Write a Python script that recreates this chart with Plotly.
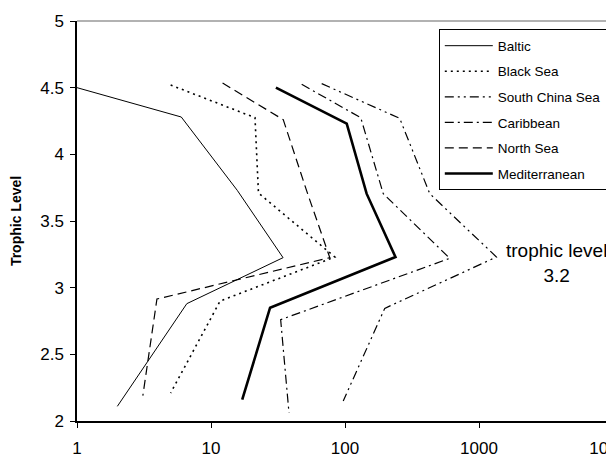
import plotly.graph_objects as go

# Data (catch / biomass vs trophic level)
baltic_x = [1.0, 6.0, 15.7, 34.5, 6.6, 2.0]
baltic_y = [4.50, 4.28, 3.73, 3.225, 2.88, 2.11]

black_x = [5.0, 21.3, 22.6, 84, 11.7, 5.0]
black_y = [4.52, 4.275, 3.71, 3.23, 2.90, 2.21]

scs_x = [67, 256, 429, 1350, 198, 97]
scs_y = [4.53, 4.27, 3.705, 3.23, 2.845, 2.15]

carib_x = [47.5, 131, 193, 605, 33.1, 38.2]
carib_y = [4.525, 4.275, 3.705, 3.22, 2.76, 2.06]

north_x = [12.2, 34.6, 52, 77, 3.95, 3.1]
north_y = [4.535, 4.26, 3.72, 3.225, 2.915, 2.19]

med_x = [30.5, 103, 145, 238, 27.6, 17.1]
med_y = [4.50, 4.23, 3.705, 3.23, 2.85, 2.16]

x_tickvals = [1, 10, 100, 1000, 10000]
x_ticktext = ["1", "10", "100", "1000", "10000"]
y_tickvals = [2, 2.5, 3, 3.5, 4, 4.5, 5]
y_ticktext = ["2", "2.5", "3", "3.5", "4", "4.5", "5"]

series = [
    ("Baltic", baltic_x, baltic_y, dict(color="black", width=1, dash="solid")),
    ("Black Sea", black_x, black_y, dict(color="black", width=1.6, dash="2px,4px")),
    ("South China Sea", scs_x, scs_y, dict(color="black", width=1.2, dash="9px,4px,2px,4px,2px,4px")),
    ("Caribbean", carib_x, carib_y, dict(color="black", width=1.2, dash="9px,4px,2px,4px")),
    ("North Sea", north_x, north_y, dict(color="black", width=1.2, dash="9px,5px")),
    ("Mediterranean", med_x, med_y, dict(color="black", width=2.6, dash="solid")),
]

fig = go.Figure()
for i, (name, xs, ys, ln) in enumerate(series):
    fig.add_trace(go.Scatter(x=xs, y=ys, mode="lines", name=name, line=ln,
                             legendgroup=f"g{i}"))

fig.update_layout(
    width=606, height=447,
    margin=dict(l=69, r=1, t=13, b=34),
    paper_bgcolor="white", plot_bgcolor="white",
    font=dict(family="Liberation Sans, Arial, sans-serif", color="black", size=17),
    showlegend=True,
    legend=dict(x=0.675, y=0.979, xanchor="left", yanchor="top",
                bordercolor="black", borderwidth=1, bgcolor="white",
                font=dict(size=13.5), tracegroupgap=5, itemwidth=48),
    xaxis=dict(type="log", range=[0, 4], tickvals=x_tickvals, ticktext=x_ticktext,
               showgrid=False, zeroline=False, showline=True, linecolor="black",
               linewidth=1.5, ticks="outside", ticklen=5, tickcolor="black",
               tickfont=dict(size=17), automargin=False, ticklabeloverflow="allow",
               ticklabelstandoff=6),
    yaxis=dict(range=[2, 5], tickvals=y_tickvals, ticktext=y_ticktext,
               showgrid=False, zeroline=False, showline=True, linecolor="black",
               linewidth=1.5, ticks="outside", ticklen=5, tickcolor="black",
               tickfont=dict(size=17), automargin=False, ticklabelstandoff=3,
               title=dict(text="<b>Trophic Level</b>", font=dict(size=14), standoff=20)),
    annotations=[dict(x=0.894, y=0.394, xref="paper", yref="paper",
                      xanchor="center", yanchor="middle",
                      text="trophic level<br>3.2", showarrow=False,
                      font=dict(size=19), align="center")],
    shapes=[
        dict(type="line", xref="paper", yref="paper", x0=0, x1=1, y0=1, y1=1,
             line=dict(color="#999999", width=1.5)),
        dict(type="line", xref="paper", yref="paper", x0=1, x1=1, y0=0, y1=1,
             line=dict(color="#999999", width=1.5)),
    ],
)

fig.write_html("out.html")
